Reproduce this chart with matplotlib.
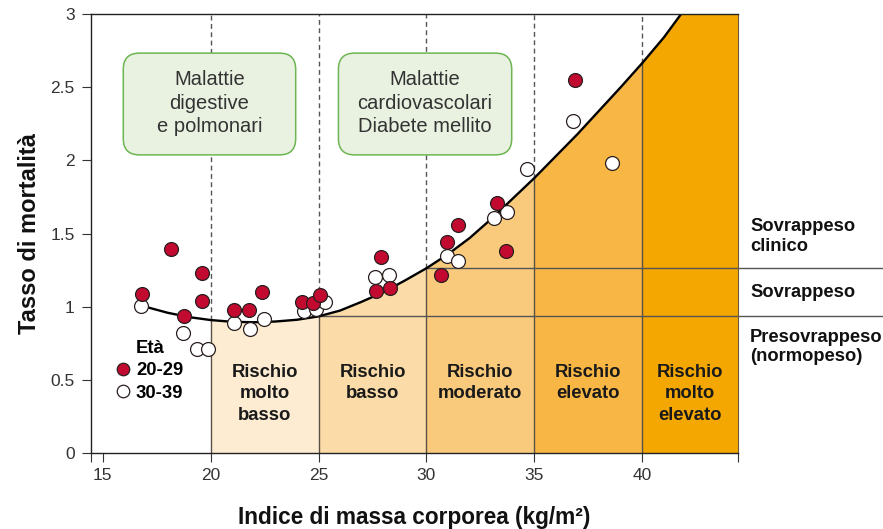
import numpy as np
import matplotlib
matplotlib.use("Agg")
import matplotlib.pyplot as plt
from matplotlib.patches import FancyBboxPatch
from matplotlib.lines import Line2D

# font setup: Helvetica-like
plt.rcParams['font.family'] = ['Liberation Sans', 'DejaVu Sans']

# ---------------------------------------------------------------------------
# data
# ---------------------------------------------------------------------------
BMI_20_29 = [16.82, 18.16, 18.76, 19.61, 19.61, 21.07, 21.78, 22.36, 24.22, 24.73,
             25.06, 27.91, 27.67, 28.32, 30.93, 31.44, 30.69, 33.28, 33.70, 36.90]
RATE_20_29 = [1.085, 1.393, 0.936, 1.234, 1.040, 0.979, 0.979, 1.104, 1.036, 1.025,
              1.083, 1.343, 1.109, 1.131, 1.443, 1.559, 1.218, 1.712, 1.384, 2.55]

BMI_30_39 = [16.76, 18.72, 19.37, 19.88, 21.06, 21.82, 22.48, 24.31, 24.87, 25.32,
             27.61, 28.27, 30.93, 31.46, 33.14, 33.75, 34.65, 36.81, 38.59]
RATE_30_39 = [1.006, 0.820, 0.710, 0.710, 0.890, 0.851, 0.919, 0.974, 0.984, 1.033,
              1.204, 1.220, 1.348, 1.316, 1.607, 1.646, 1.944, 2.272, 1.981]

# J-shaped mortality curve
CURVE_BMI = [17, 18, 19, 20, 21, 22, 23, 24, 25, 26, 27, 28, 29, 30, 31, 32, 33,
             34, 35, 36, 37, 38, 39, 40, 41, 41.8]
CURVE_RATE = [1.00, 0.96, 0.93, 0.91, 0.898, 0.895, 0.900, 0.912, 0.935, 0.975,
              1.035, 1.10, 1.18, 1.264, 1.36, 1.47, 1.60, 1.74, 1.88, 2.03, 2.18,
              2.34, 2.50, 2.665, 2.84, 3.0]

BAND_EDGES = [20, 25, 30, 35, 40]
BAND_LABELS = ["Rischio\nmolto\nbasso", "Rischio\nbasso", "Rischio\nmoderato",
               "Rischio\nelevato", "Rischio\nmolto\nelevato"]
BAND_COLORS = ['#FDECD2', '#FBDCA8', '#F9CA7B', '#F8B744', '#F4A700']

RIGHT_LABELS = ["Sovrappeso\nclinico", "Sovrappeso", "Presovrappeso\n(normopeso)"]
RIGHT_LABEL_Y = [1.48, 1.095, 0.725]

BOX_TEXTS = ["Malattie\ndigestive\ne polmonari", "Malattie\ncardiovascolari\nDiabete mellito"]

XMIN, XMAX = 14.44, 44.42
YMIN, YMAX = 0, 3

RED = '#C20A30'
EDGE = '#2a1f1f'
TXT = '#333333'

fig = plt.figure(figsize=(8.83, 5.29), dpi=100)
ax = fig.add_axes([0.1027, 0.1431, 0.7327, 0.8304])
ax.set_xlim(XMIN, XMAX)
ax.set_ylim(YMIN, YMAX)

cx = np.array(CURVE_BMI, dtype=float)
cy = np.array(CURVE_RATE, dtype=float)
curve_at = dict(zip(CURVE_BMI, CURVE_RATE))

# coloured risk bands under the curve
band_bounds = BAND_EDGES + [XMAX]
for i in range(len(BAND_EDGES)):
    lo, hi = band_bounds[i], band_bounds[i + 1]
    m = (cx >= lo) & (cx <= hi)
    xs, ys = list(cx[m]), list(cy[m])
    if i == len(BAND_EDGES) - 1:
        xs.append(XMAX)
        ys.append(YMAX)
    ax.fill_between(xs, 0, ys, color=BAND_COLORS[i], lw=0, zorder=1)
    ax.text((lo + hi) / 2, 0.612, BAND_LABELS[i], ha='center', va='top',
            fontsize=13.3, fontweight='bold', color='#1a1a1a', linespacing=1.36,
            zorder=5)

# band separators: solid below curve, dashed above
for e in BAND_EDGES:
    c = curve_at[e]
    ax.vlines(e, 0, c, colors='#5a5046', lw=1.0, zorder=2)
    ax.vlines(e, c, YMAX, colors='#555555', lw=1.0, linestyles=(0, (3.5, 2.5)), zorder=2)

# weight-class horizontal lines, running out past the axes
for e in (25, 30):
    ax.plot([e, 51.2], [curve_at[e]] * 2, color='#555555', lw=1.0,
            clip_on=False, zorder=2)

for txt, y in zip(RIGHT_LABELS, RIGHT_LABEL_Y):
    ax.text(45.0, y, txt, ha='left', va='center', fontsize=13.2,
            fontweight='bold', color='#111111', linespacing=1.2, clip_on=False)

ax.plot(cx, cy, color='black', lw=1.7, zorder=3, solid_capstyle='butt')

# disease boxes
box_x = [(15.95, 23.94), (25.92, 33.95)]
box_y = (2.038, 2.733)
for (x0, x1), txt in zip(box_x, BOX_TEXTS):
    p = FancyBboxPatch((x0, box_y[0]), x1 - x0, box_y[1] - box_y[0],
                       boxstyle="round,pad=0,rounding_size=0.75",
                       mutation_aspect=0.1474, fc='#E9F2E1', ec='#6DB552',
                       lw=1.1, zorder=4)
    ax.add_patch(p)
    ax.text((x0 + x1) / 2, sum(box_y) / 2 + 0.005, txt, ha='center', va='center',
            fontsize=14.5, color=TXT, linespacing=1.3, zorder=5)

# data points
ax.scatter(BMI_30_39, RATE_30_39, s=100, facecolor='white', edgecolor=EDGE,
           lw=0.9, zorder=6)
ax.scatter(BMI_20_29, RATE_20_29, s=100, facecolor=RED, edgecolor=EDGE,
           lw=0.9, zorder=7)

handles = [Line2D([], [], ls='none', marker='o', ms=9, mfc=RED, mec=EDGE, mew=0.9),
           Line2D([], [], ls='none', marker='o', ms=9, mfc='white', mec=EDGE, mew=0.9)]
leg = ax.legend(handles, ["20-29", "30-39"], title="Età", loc='upper left',
                bbox_to_anchor=(0.040, 0.259), frameon=False,
                prop={'weight': 'bold', 'size': 13.3},
                title_fontproperties={'weight': 'bold', 'size': 13.3},
                handlelength=0.7, handletextpad=0.35, labelspacing=0.3,
                borderpad=0, borderaxespad=0)
leg.set_zorder(8)

# axes styling
for s in ('top', 'bottom', 'left'):
    ax.spines[s].set_color('#222222')
    ax.spines[s].set_linewidth(1.0)
ax.spines['right'].set_color('#6b5a3a')
ax.spines['right'].set_linewidth(0.8)
for s in ax.spines.values():
    s.set_zorder(9)

ax.set_xticks([15, 20, 25, 30, 35, 40])
ax.set_yticks([0, 0.5, 1, 1.5, 2, 2.5, 3])
ax.set_yticklabels(['0', '0.5', '1', '1.5', '2', '2.5', '3'])
ax.set_xticks([XMIN, XMAX], minor=True)
ax.tick_params(axis='both', which='both', direction='out', length=6.5, width=0.8,
               color='#333333', labelsize=12.5, labelcolor=TXT)
ax.tick_params(axis='x', pad=4)
ax.tick_params(axis='y', pad=5)

ax.set_xlabel("Indice di massa corporea (kg/m²)", fontsize=16.3, fontweight='bold',
              color='#111111', labelpad=17)
ax.set_ylabel("Tasso di mortalità", fontsize=17, fontweight='bold',
              color='#111111', labelpad=7)

fig.savefig("out.png", dpi=100)
